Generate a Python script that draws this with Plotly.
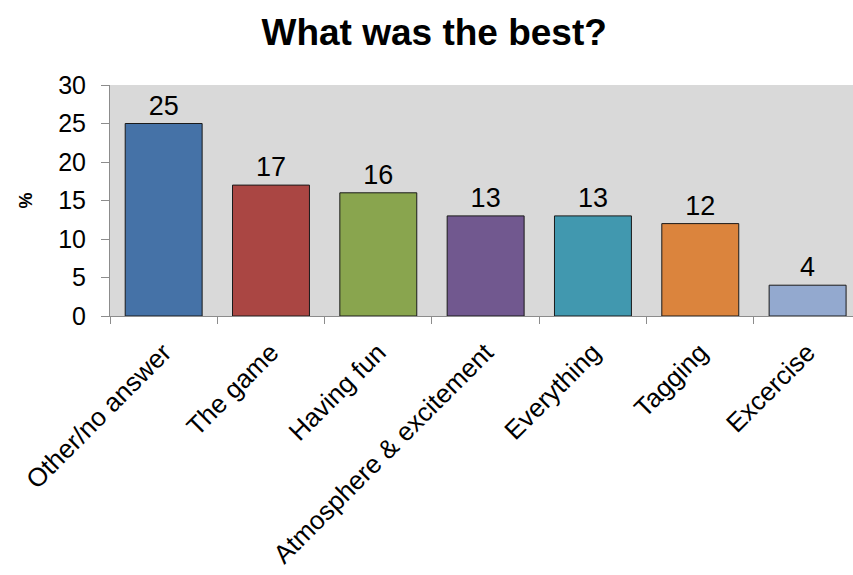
import plotly.graph_objects as go

# Survey answers: share of respondents (%)
categories = [
    "Other/no answer",
    "The game",
    "Having fun",
    "Atmosphere & excitement",
    "Everything",
    "Tagging",
    "Excercise",
]
values = [25, 17, 16, 13, 13, 12, 4]
bar_colors = ["#4572A7", "#AA4643", "#89A54E", "#71588F", "#4198AF", "#DB843D", "#93A9CF"]
y_ticks = [0, 5, 10, 15, 20, 25, 30]

FONT = "Liberation Sans, Arial, sans-serif"
AXIS_GREY = "#8C8C8C"

fig = go.Figure(
    go.Bar(
        x=categories,
        y=values,
        marker=dict(color=bar_colors, line=dict(color="#1A1A1A", width=1)),
        text=[str(v) for v in values],
        textposition="outside",
        textfont=dict(family=FONT, size=27, color="#000000"),
        cliponaxis=False,
        hoverinfo="x+y",
    )
)

fig.update_layout(
    width=853,
    height=575,
    margin=dict(l=110, r=0, t=85, b=259),
    paper_bgcolor="#FFFFFF",
    plot_bgcolor="#D9D9D9",
    bargap=0.283,
    showlegend=False,
    font=dict(family=FONT, color="#000000"),
    title=dict(
        text="<b>What was the best?</b>",
        x=0.509,
        xanchor="center",
        y=0.945,
        yanchor="middle",
        font=dict(family=FONT, size=37, color="#000000"),
    ),
)

fig.update_xaxes(
    range=[-0.5, 6.423],
    showline=True,
    linecolor=AXIS_GREY,
    linewidth=1,
    ticks="outside",
    tickson="boundaries",
    ticklen=7,
    tickcolor=AXIS_GREY,
    tickangle=-45,
    ticklabelstandoff=10,
    tickfont=dict(family=FONT, size=26, color="#000000"),
    showgrid=False,
    fixedrange=True,
)

fig.update_yaxes(
    range=[0, 30],
    tickvals=y_ticks,
    showline=True,
    linecolor=AXIS_GREY,
    linewidth=1,
    ticks="outside",
    ticklen=8,
    tickcolor=AXIS_GREY,
    ticklabelstandoff=10,
    tickfont=dict(family=FONT, size=25, color="#000000"),
    showgrid=False,
    zeroline=False,
    title=dict(text="<b>%</b>", font=dict(family=FONT, size=18, color="#000000"), standoff=20),
    fixedrange=True,
)

fig.write_html("out.html")
